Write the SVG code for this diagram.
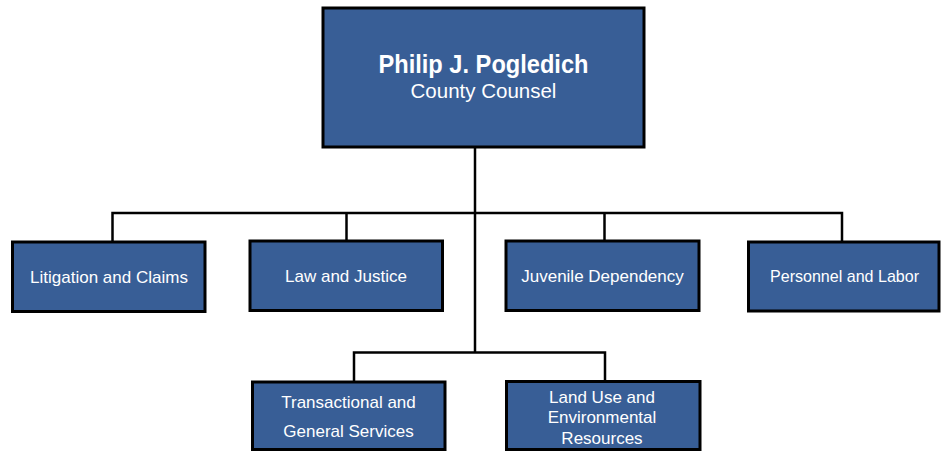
<svg xmlns="http://www.w3.org/2000/svg" width="943" height="451" viewBox="0 0 943 451">
<style>
.box{fill:#385E96;stroke:#000;stroke-width:3}
.conn{fill:none;stroke:#000;stroke-width:2.5}
text{font-family:"Liberation Sans",Arial,sans-serif;fill:#fff;text-anchor:middle}
.t{font-size:17px}
.b{font-size:17px}
</style>
<rect width="943" height="451" fill="#fff"/>
<g id="connectors" class="conn">
<path d="M475 147V352"/>
<path d="M112.5 241V213H842V241"/>
<path d="M346.5 213V240"/>
<path d="M604.5 213V240"/>
<path d="M354 382V352.5H605V381"/>
</g>
<g id="head">
<rect class="box" x="323" y="8" width="321" height="139"/>
<text x="483.5" y="73" font-size="25" font-weight="bold" textLength="210" lengthAdjust="spacingAndGlyphs">Philip J. Pogledich</text>
<text x="483.5" y="98" font-size="20.5">County Counsel</text>
</g>
<g id="litigation">
<rect class="box" x="12.5" y="242" width="192.5" height="69.5"/>
<text class="t" x="109" y="282.5">Litigation and Claims</text>
</g>
<g id="law">
<rect class="box" x="250" y="241" width="192.5" height="69.5"/>
<text class="t" x="346" y="281.5">Law and Justice</text>
</g>
<g id="juvenile">
<rect class="box" x="506" y="241" width="193" height="69.5"/>
<text class="t" x="602.5" y="281.5">Juvenile Dependency</text>
</g>
<g id="personnel">
<rect class="box" x="748.5" y="242" width="190.5" height="69"/>
<text class="t" x="844.5" y="281.5" textLength="149" lengthAdjust="spacingAndGlyphs">Personnel and Labor</text>
</g>
<g id="transactional">
<rect class="box" x="252.5" y="382" width="192.5" height="67.5"/>
<text class="b" x="348.5" y="408">Transactional and</text>
<text class="b" x="348.5" y="436.5">General Services</text>
</g>
<g id="landuse">
<rect class="box" x="506.5" y="381.5" width="193.5" height="68"/>
<text class="b" x="602" y="402.5">Land Use and</text>
<text class="b" x="602" y="423">Environmental</text>
<text class="b" x="602" y="443.5">Resources</text>
</g>
</svg>
